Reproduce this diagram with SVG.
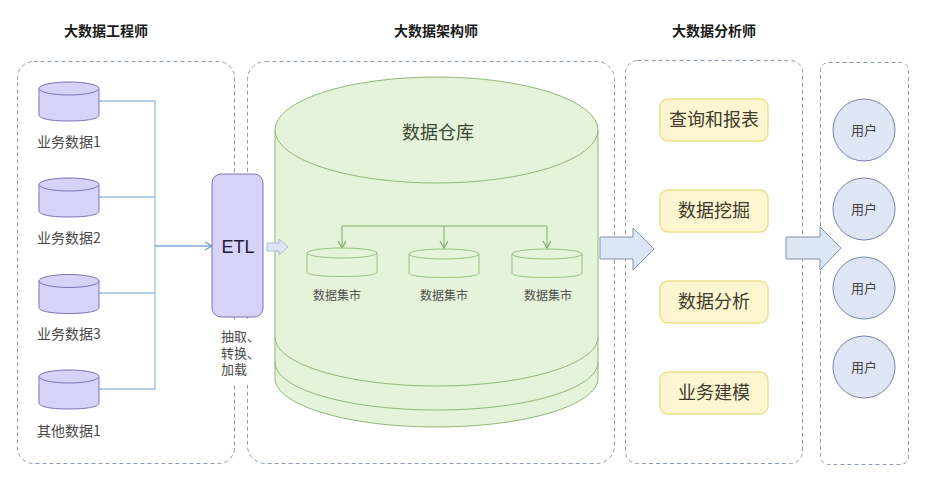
<svg xmlns="http://www.w3.org/2000/svg" width="926" height="477" viewBox="0 0 926 477">
<style>
text{font-family:"Noto Sans CJK SC","Liberation Sans",sans-serif;text-anchor:middle;fill:#2a2a2a}
.title{font-size:14px;font-weight:700;fill:#1a1a1a}
.lab{font-size:14px;fill:#4a4a4a}
.etl-lab{font-family:"Liberation Sans","Noto Sans CJK SC",sans-serif;font-size:13px;fill:#4a4a4a;text-anchor:start}
.small{font-size:12px;fill:#505050}
.panel{fill:#fff;stroke:#8a9cb0;stroke-width:1;stroke-dasharray:4 3}
.db{fill:#d6d2f8;stroke:#7d72b5;stroke-width:1}
.mart{fill:#e4f3d9;stroke:#97c080;stroke-width:1}
.big{fill:#e4f3d9;stroke:#8fb878;stroke-width:1}
.arc{fill:none;stroke:#8fb878;stroke-width:1}
.yb{fill:#fdf6d0;stroke:#f0e08c;stroke-width:1.5}
.yt{font-size:18px;fill:#3f3a2c}
.user{fill:#dfe6f5;stroke:#7486a6;stroke-width:1}
.ut{font-size:13px;fill:#444}
.blue{fill:none;stroke:#9dbdd6;stroke-width:1.3}
.blue2{fill:none;stroke:#7ea8cc;stroke-width:1.3}
.green{fill:none;stroke:#7fae68;stroke-width:1}
.block{fill:#dde6f4;stroke:#7e94ad;stroke-width:1}
</style>
<defs>
<marker id="ba" markerWidth="10" markerHeight="10" refX="8" refY="4" orient="auto" markerUnits="userSpaceOnUse"><path d="M1 0L8 4L1 8" fill="none" stroke="#6f9cc6" stroke-width="1.2"/></marker>
<marker id="ga" markerWidth="10" markerHeight="10" refX="8" refY="4" orient="auto" markerUnits="userSpaceOnUse"><path d="M1 0L8 4L1 8" fill="none" stroke="#7fae68" stroke-width="1.2"/></marker>
</defs>
<rect width="926" height="477" fill="#fff"/>
<g id="panels">
<rect class="panel" x="17.500" y="61.500" width="217" height="402" rx="16"/>
<rect class="panel" x="247.500" y="61.500" width="367" height="402" rx="18"/>
<rect class="panel" x="625.500" y="60.500" width="177" height="403" rx="12"/>
<rect class="panel" x="820.500" y="62.500" width="88" height="402" rx="8"/>
</g>
<g id="titles">
<text class="title" x="106" y="36">大数据工程师</text>
<text class="title" x="436" y="36">大数据架构师</text>
<text class="title" x="714" y="36">大数据分析师</text>
</g>
<g id="warehouse">
<path class="big" d="M275 130V378C275 405 347 427 436.500 427S598 405 598 378V130Z"/>
<path class="arc" d="M275 362C275 389 347 410 436.500 410S598 389 598 362"/>
<path class="arc" d="M275 337C275 364 347 386 436.500 386S598 364 598 337"/>
<ellipse class="big" cx="436.500" cy="130" rx="161.500" ry="53"/>
<text x="438" y="139" font-size="18" style="fill:#3c4a34">数据仓库</text>
</g>
<g id="connectors">
<path class="blue" d="M99 101H155V389H99M99 197H155M99 293H155"/>
<path class="blue2" d="M155 246H212" marker-end="url(#ba)"/>
<path class="green" d="M342 226H547"/>
<path class="green" d="M342 226V248" marker-end="url(#ga)"/>
<path class="green" d="M444 226V248" marker-end="url(#ga)"/>
<path class="green" d="M547 226V248" marker-end="url(#ga)"/>
</g>
<g id="db1"><path class="db" d="M39 88.500V115C39 119 52 121 69 121S99 119 99 115V88.500Z"/><ellipse class="db" cx="69" cy="88.500" rx="30" ry="6.500"/><text class="lab" x="69" y="147">业务数据1</text></g>
<g id="db2"><path class="db" d="M39 184.500V211C39 215 52 217 69 217S99 215 99 211V184.500Z"/><ellipse class="db" cx="69" cy="184.500" rx="30" ry="6.500"/><text class="lab" x="69" y="243">业务数据2</text></g>
<g id="db3"><path class="db" d="M39 281V307.500C39 311.500 52 313.500 69 313.500S99 311.500 99 307.500V281Z"/><ellipse class="db" cx="69" cy="281" rx="30" ry="6.500"/><text class="lab" x="69" y="339">业务数据3</text></g>
<g id="db4"><path class="db" d="M39 376.500V403C39 407 52 409 69 409S99 407 99 403V376.500Z"/><ellipse class="db" cx="69" cy="376.500" rx="30" ry="6.500"/><text class="lab" x="69" y="436">其他数据1</text></g>
<g id="etl"><rect x="212" y="174" width="51" height="143" rx="9" fill="#d6d2f8" stroke="#7d72b5"/><text x="238" y="253" font-size="18" style="font-family:'Liberation Sans',sans-serif;fill:#1c1c3a">ETL</text></g>
<g id="etl-label"><rect x="214" y="320" width="50" height="63" fill="#fff"/><text class="etl-lab" x="221"><tspan x="221" y="341">抽取、</tspan><tspan x="221" y="358">转换、</tspan><tspan x="221" y="374">加载</tspan></text></g>
<g id="arrow-small"><path class="block" style="stroke:#a9bcd4" d="M267 243H279V239L288 247L279 255V251H267Z"/></g>
<g id="mart1"><path class="mart" d="M307 253V272C307 275 322 276.500 342 276.500S377 275 377 272V253Z"/><ellipse class="mart" cx="342" cy="253" rx="35" ry="5"/><text class="small" x="337" y="300">数据集市</text></g>
<g id="mart2"><path class="mart" d="M409 254V273C409 276 424 277.500 444 277.500S479 276 479 273V254Z"/><ellipse class="mart" cx="444" cy="254" rx="35" ry="5"/><text class="small" x="444" y="300">数据集市</text></g>
<g id="mart3"><path class="mart" d="M512 254V273C512 276 527 277.500 547 277.500S582 276 582 273V254Z"/><ellipse class="mart" cx="547" cy="254" rx="35" ry="5"/><text class="small" x="548" y="300">数据集市</text></g>
<g id="arrow1"><path class="block" d="M600 237H633V228L654 249L633 270V259H600Z"/></g>
<g id="arrow2"><path class="block" d="M786 237H820V227L841 248L820 270V259H786Z"/></g>
<g id="q1"><rect class="yb" x="660" y="99" width="108" height="42" rx="8"/><text class="yt" x="714" y="126">查询和报表</text></g>
<g id="q2"><rect class="yb" x="660" y="190" width="108" height="42" rx="8"/><text class="yt" x="714" y="217">数据挖掘</text></g>
<g id="q3"><rect class="yb" x="660" y="281" width="108" height="42" rx="8"/><text class="yt" x="714" y="308">数据分析</text></g>
<g id="q4"><rect class="yb" x="660" y="372" width="108" height="42" rx="8"/><text class="yt" x="714" y="399">业务建模</text></g>
<g id="u1"><circle class="user" cx="864" cy="130" r="31"/><text class="ut" x="864" y="135">用户</text></g>
<g id="u2"><circle class="user" cx="864" cy="209" r="31"/><text class="ut" x="864" y="214">用户</text></g>
<g id="u3"><circle class="user" cx="864" cy="288" r="31"/><text class="ut" x="864" y="293">用户</text></g>
<g id="u4"><circle class="user" cx="864" cy="367" r="31"/><text class="ut" x="864" y="372">用户</text></g>
</svg>
